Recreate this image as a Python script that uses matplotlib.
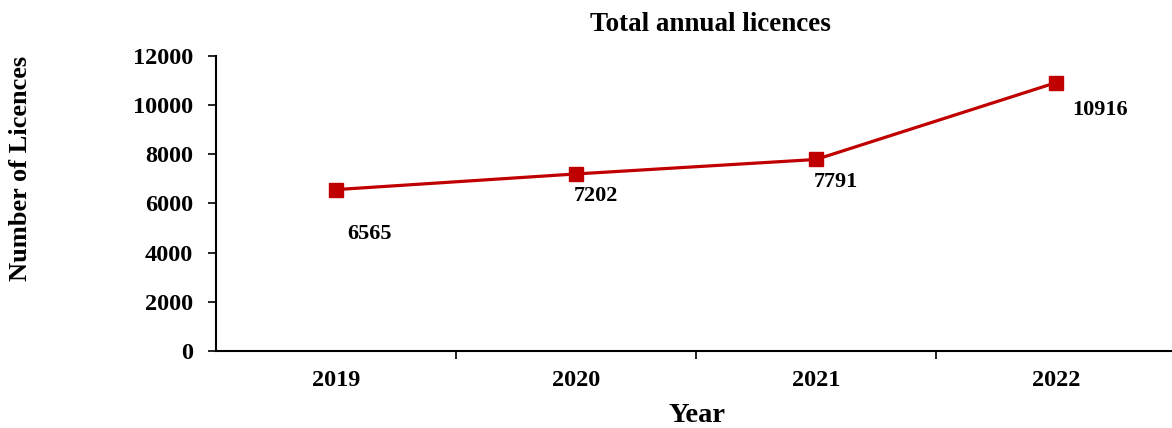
import matplotlib.pyplot as plt

years = ['2019', '2020', '2021', '2022']
licences = [6565, 7202, 7791, 10916]
# label offsets (points) from each marker
label_dx = [24, 14, 14, 32]
label_dy = [-32, -16, -16, -20]

plt.rcParams['font.family'] = ['Liberation Serif', 'DejaVu Serif']
plt.rcParams['font.weight'] = 'bold'

fig = plt.figure(figsize=(11.72, 4.28), dpi=100)
ax = fig.add_axes([216/1172, 1 - 351/428, 960/1172, 295/428])

x = list(range(len(years)))
ax.plot(x, licences, color='#C00000', lw=2.3, marker='s', markersize=10.5, zorder=3)
for i, v in enumerate(licences):
    ax.annotate(str(v), (x[i], v), xytext=(label_dx[i], label_dy[i]), textcoords='offset points',
                ha='center', va='center', fontsize=16, fontweight='bold')

ax.set_xlim(-0.5, len(years) - 0.5)
ax.set_ylim(0, 12000)
ax.set_yticks(range(0, 12001, 2000))
ax.set_xticks([i + 0.5 for i in x[:-1]])
ax.set_xticklabels([])
ax.set_xticks(x, minor=True)
ax.set_xticklabels(years, minor=True, fontsize=17.5, fontweight='bold')
ax.tick_params(axis='x', which='minor', length=0, pad=14)
ax.tick_params(axis='x', which='major', length=6, width=1.2, direction='out')
ax.tick_params(axis='y', length=6, width=1.2, direction='out', labelsize=17.5, pad=10.5)

for s in ['top', 'right']:
    ax.spines[s].set_visible(False)
for s in ['left', 'bottom']:
    ax.spines[s].set_linewidth(1.5)

ax.set_title('Total annual licences', fontsize=19.5, fontweight='bold', pad=18, x=(710-216)/960)
ax.set_xlabel('Year', fontsize=20.5, fontweight='bold', labelpad=8, x=(697-216)/960)
ax.set_ylabel('Number of Licences', fontsize=19, fontweight='bold')
ax.yaxis.set_label_coords(-(216-32)/960, (351-168)/295)

fig.savefig('out.png', dpi=100)
